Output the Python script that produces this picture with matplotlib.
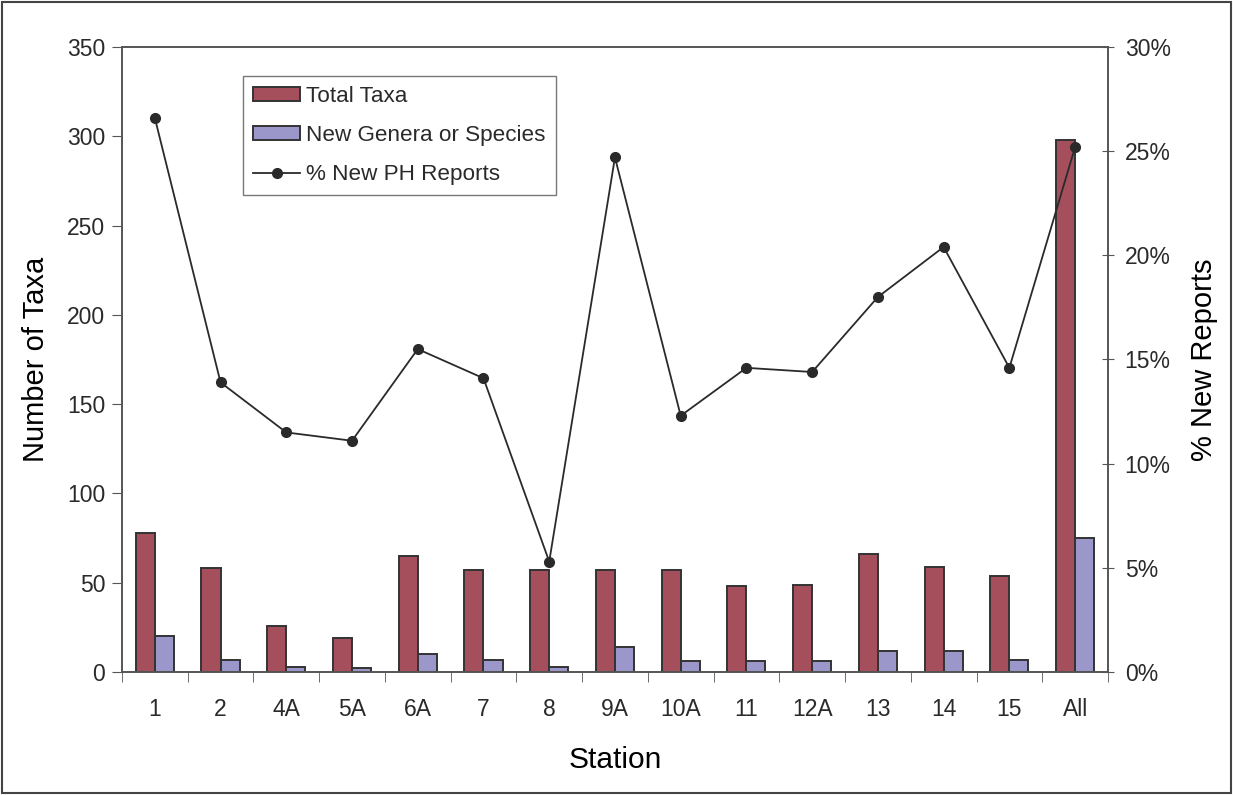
import matplotlib
matplotlib.use("Agg")
import matplotlib.pyplot as plt
import numpy as np
from matplotlib.patches import Rectangle
from matplotlib.ticker import FuncFormatter

stations = ["1", "2", "4A", "5A", "6A", "7", "8", "9A", "10A", "11", "12A", "13", "14", "15", "All"]
total_taxa = [78, 58, 26, 19, 65, 57, 57, 57, 57, 48, 49, 66, 59, 54, 298]
new_genera = [20, 7, 3, 2, 10, 7, 3, 14, 6, 6, 6, 12, 12, 7, 75]
pct_new_ph = [26.6, 13.9, 11.5, 11.1, 15.5, 14.1, 5.3, 24.7, 12.3, 14.6, 14.4, 18.0, 20.4, 14.6, 25.2]

RED = "#a64f5c"
BLUE = "#9c97cb"
EDGE = "#333333"
FAM = ["Liberation Sans Narrow", "Liberation Sans", "DejaVu Sans"]

plt.rcParams["font.family"] = FAM
plt.rcParams["text.color"] = "#2a2a2a"
plt.rcParams["xtick.color"] = "#555555"
plt.rcParams["ytick.color"] = "#555555"
plt.rcParams["xtick.labelcolor"] = "#2a2a2a"
plt.rcParams["ytick.labelcolor"] = "#2a2a2a"

fig = plt.figure(figsize=(12.33, 7.95), dpi=100)
ax = fig.add_axes([0.0989, 0.1547, 0.7997, 0.7862])
ax2 = ax.twinx()

x = np.arange(len(stations))
w = 0.29
ax.bar(x - w / 2, total_taxa, w, color=RED, edgecolor=EDGE, linewidth=1.4, label="Total Taxa", zorder=2)
ax.bar(x + w / 2, new_genera, w, color=BLUE, edgecolor=EDGE, linewidth=1.4, label="New Genera or Species", zorder=2)
ax2.plot(x, pct_new_ph, color="#2a2a2a", linewidth=1.3, marker="o", markersize=7, label="% New PH Reports")

ax.set_xlim(-0.5, len(stations) - 0.5)
ax.set_ylim(0, 350)
ax.set_yticks(np.arange(0, 351, 50))
ax2.set_ylim(0, 30)
ax2.set_yticks(np.arange(0, 31, 5))
ax2.yaxis.set_major_formatter(FuncFormatter(lambda v, p: f"{v:.0f}%"))

ax.set_xticks(x)
ax.set_xticklabels(stations)
ax.set_xticks(np.arange(-0.5, len(stations), 1), minor=True)
ax.tick_params(axis="x", which="major", length=0, labelsize=16.5, pad=19)
ax.tick_params(axis="x", which="minor", length=7, direction="out")
ax.tick_params(axis="y", length=7, direction="out", labelsize=16.5, pad=5)
ax2.tick_params(axis="y", length=8, direction="inout", labelsize=16.5, pad=8)

for a in (ax, ax2):
    for s in a.spines.values():
        s.set_color("#555555")
        s.set_linewidth(1.2)

ax.set_xlabel("Station", fontsize=21.5, labelpad=18)
ax.set_ylabel("Number of Taxa", fontsize=21, labelpad=12)
ax2.set_ylabel("% New Reports", fontsize=21, labelpad=14)

h1, l1 = ax.get_legend_handles_labels()
h2, l2 = ax2.get_legend_handles_labels()
leg = ax2.legend(h1 + h2, l1 + l2, loc="upper left", bbox_to_anchor=(0.1227, 0.9536),
                 borderaxespad=0, fontsize=16.2, frameon=True, fancybox=False,
                 handlelength=2.1, handleheight=0.6, borderpad=0.45, labelspacing=0.8,
                 handletextpad=0.25)
leg.get_frame().set_edgecolor("#555555")
leg.get_frame().set_linewidth(1.0)

fig.patches.append(Rectangle((0.002, 0.002), 0.996, 0.996, transform=fig.transFigure,
                             fill=False, edgecolor="#444444", linewidth=1.5))

fig.savefig("out.png", dpi=100)
